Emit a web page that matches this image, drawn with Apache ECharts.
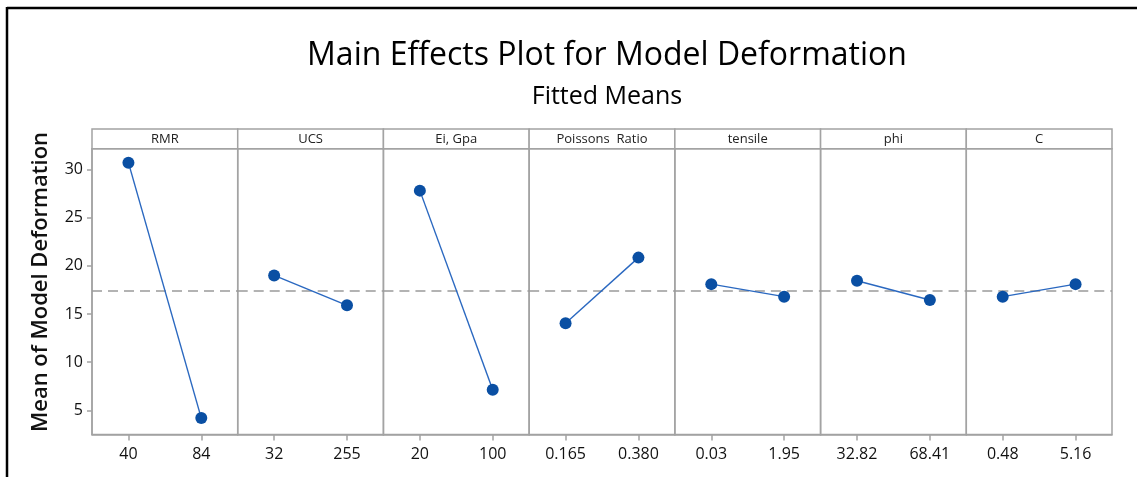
<!DOCTYPE html>
<html>
<head>
<meta charset="utf-8">
<script src="https://cdn.jsdelivr.net/npm/echarts@6/dist/echarts.min.js"></script>
<style>
html,body{margin:0;padding:0;background:#fff;}
#chart{width:1137px;height:477px;}
</style>
</head>
<body>
<div id="chart"></div>
<script>
// ---- data ----
const factors = ['RMR', 'UCS', 'Ei, Gpa', 'Poissons  Ratio', 'tensile', 'phi', 'C'];
const levels = [['40', '84'], ['32', '255'], ['20', '100'], ['0.165', '0.380'], ['0.03', '1.95'], ['32.82', '68.41'], ['0.48', '5.16']];
const means = [[30.7, 4.2], [19.0, 15.9], [27.8, 7.15], [14.05, 20.85], [18.1, 16.8], [18.45, 16.45], [16.8, 18.1]];
const overallMean = 17.45;
const yTicks = [5, 10, 15, 20, 25, 30];
const yMin = 2.5, yMax = 32.15;

// ---- layout ----
const PL = 92, PR = 1112, PT = 148.7, PB = 434.5, ST = 129;
const n = factors.length;
const pw = (PR - PL) / n;
const FONT = '"Open Sans", "Noto Sans", sans-serif';
const TXT = '#111111';
const GRAY = '#a3a3a3';

const grids = [], xAxes = [], yAxes = [], series = [], graphics = [];
for (let i = 0; i < n; i++) {
  grids.push({left: PL + i * pw, top: PT, width: pw, height: PB - PT, show: true, borderColor: GRAY, borderWidth: 1.5, backgroundColor: 'transparent'});
  xAxes.push({
    type: 'category', gridIndex: i, data: levels[i], boundaryGap: true,
    axisLine: {show: true, lineStyle: {color: GRAY, width: 1.5}},
    axisTick: {show: true, alignWithLabel: true, length: 6, lineStyle: {color: GRAY, width: 1.5}},
    axisLabel: {color: TXT, fontSize: 16, fontWeight: 500, fontFamily: FONT, margin: 12, interval: 0},
    splitLine: {show: false}
  });
  yAxes.push({
    type: 'value', gridIndex: i, min: yMin, max: yMax,
    axisLine: {show: i === 0, lineStyle: {color: GRAY, width: 1.5}},
    axisTick: {show: i === 0, length: 5, customValues: yTicks, lineStyle: {color: GRAY, width: 1.5}},
    axisLabel: {show: i === 0, customValues: yTicks, color: TXT, fontSize: 16, fontWeight: 500, fontFamily: FONT, margin: 9},
    splitLine: {show: false}
  });
  series.push({
    type: 'line', xAxisIndex: i, yAxisIndex: i, data: means[i],
    symbol: 'circle', symbolSize: 12,
    lineStyle: {color: '#2a68c0', width: 1.4},
    itemStyle: {color: '#0a4fa3'},
    animation: false, z: 5,
    markLine: {
      silent: true, symbol: 'none', label: {show: false},
      lineStyle: {color: '#9a9a9a', type: [10, 6], width: 1.5},
      data: [{yAxis: overallMean}], animation: false
    }
  });
  graphics.push({
    type: 'rect', shape: {x: PL + i * pw, y: ST, width: pw, height: PT - ST},
    style: {fill: '#fff', stroke: GRAY, lineWidth: 1.5}
  });
  graphics.push({
    type: 'text', x: PL + i * pw + pw / 2, y: (ST + PT) / 2,
    style: {text: factors[i], fill: '#222', font: '13px ' + FONT, textAlign: 'center', textVerticalAlign: 'middle'}
  });
}
// y axis title
graphics.push({
  type: 'text', x: 41, y: 282, rotation: Math.PI / 2,
  style: {text: 'Mean of Model Deformation', fill: TXT, font: '600 22px ' + FONT, textAlign: 'center', textVerticalAlign: 'middle'}
});
// outer frame
graphics.push({type: 'line', shape: {x1: 7, y1: 8, x2: 1137, y2: 8}, style: {stroke: '#000', lineWidth: 2.5}});
graphics.push({type: 'line', shape: {x1: 7, y1: 7, x2: 7, y2: 477}, style: {stroke: '#000', lineWidth: 2.5}});

const chart = echarts.init(document.getElementById('chart'), null, {renderer: 'canvas'});
chart.setOption({
  animation: false,
  backgroundColor: '#fff',
  title: [
    {text: 'Main Effects Plot for Model Deformation', left: 602, top: 35, textAlign: 'center',
     textStyle: {fontFamily: FONT, fontSize: 32, fontWeight: 500, color: '#000'}},
    {text: 'Fitted Means', left: 602, top: 79, textAlign: 'center',
     textStyle: {fontFamily: FONT, fontSize: 25, fontWeight: 500, color: '#000'}}
  ],
  grid: grids, xAxis: xAxes, yAxis: yAxes, series: series,
  graphic: graphics
});
</script>
</body>
</html>
